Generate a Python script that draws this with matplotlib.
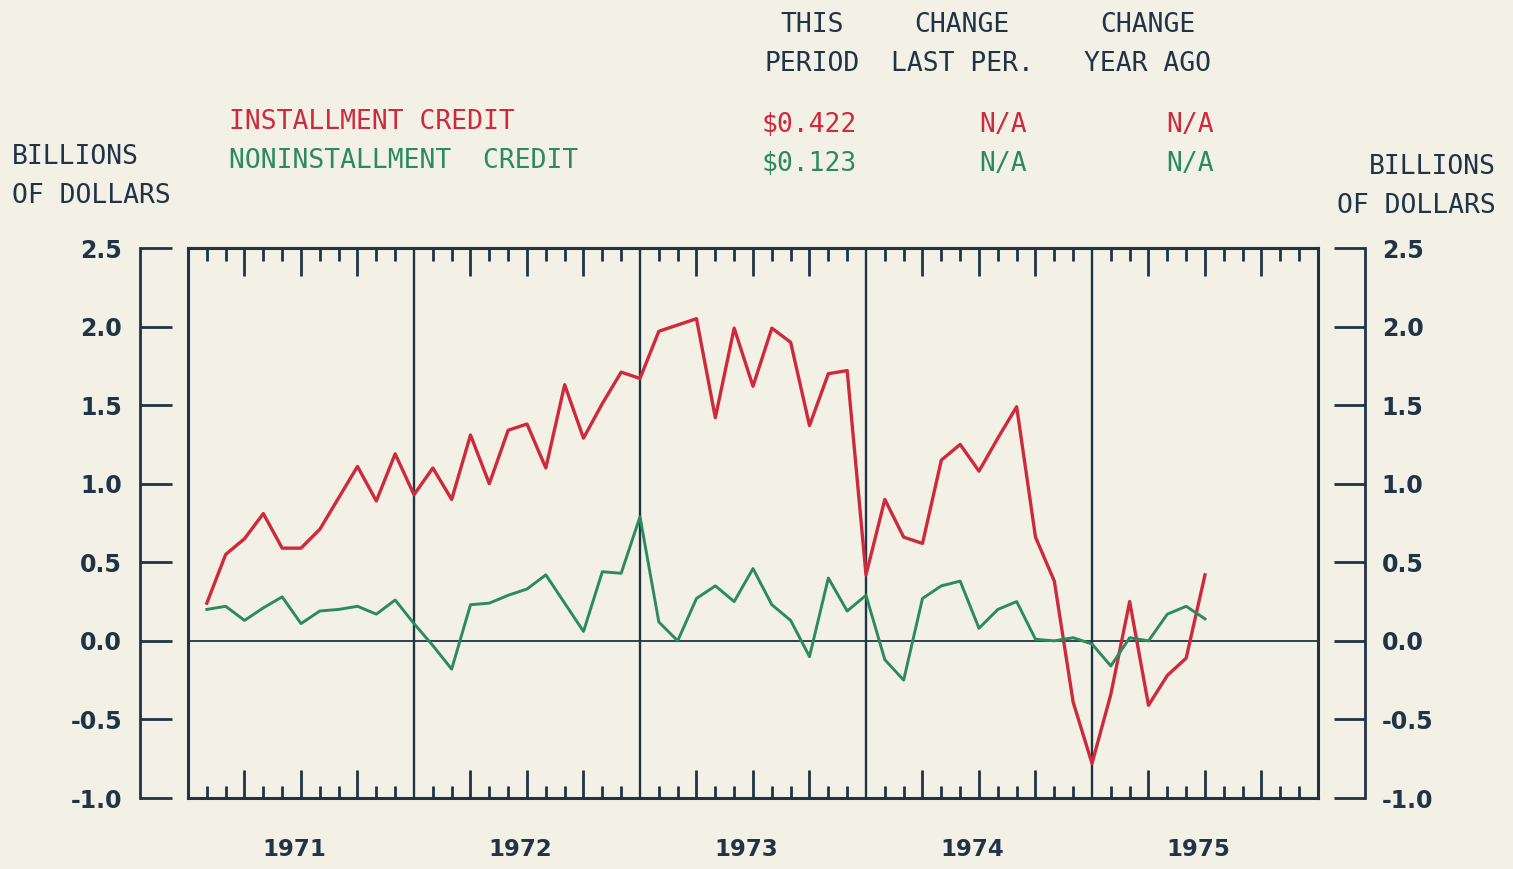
import numpy as np
import pandas as pd
import matplotlib
matplotlib.use('Agg')
import matplotlib.pyplot as plt
from matplotlib.transforms import ScaledTranslation

# monthly change in consumer credit, billions of dollars
dates = pd.date_range('1971-02-01', periods=54, freq='MS')
installment = [0.24, 0.55, 0.65, 0.81, 0.59, 0.59, 0.71, 0.91, 1.11, 0.89, 1.19, 0.93,
               1.10, 0.90, 1.31, 1.00, 1.34, 1.38, 1.10, 1.63, 1.29, 1.51, 1.71, 1.67,
               1.97, 2.01, 2.05, 1.42, 1.99, 1.62, 1.99, 1.90, 1.37, 1.70, 1.72, 0.42,
               0.90, 0.66, 0.62, 1.15, 1.25, 1.08, 1.29, 1.49, 0.66, 0.38, -0.39, -0.78,
               -0.34, 0.25, -0.41, -0.22, -0.11, 0.42]
noninstallment = [0.20, 0.22, 0.13, 0.21, 0.28, 0.11, 0.19, 0.20, 0.22, 0.17, 0.26, 0.11,
                  -0.03, -0.18, 0.23, 0.24, 0.29, 0.33, 0.42, 0.24, 0.06, 0.44, 0.43, 0.79,
                  0.12, 0.00, 0.27, 0.35, 0.25, 0.46, 0.23, 0.13, -0.10, 0.40, 0.19, 0.29,
                  -0.12, -0.25, 0.27, 0.35, 0.38, 0.08, 0.20, 0.25, 0.01, 0.00, 0.02, -0.02,
                  -0.16, 0.02, 0.00, 0.17, 0.22, 0.14]
years = [1971, 1972, 1973, 1974, 1975]
yticks = [-1.0, -0.5, 0.0, 0.5, 1.0, 1.5, 2.0, 2.5]
col_heads = [('THIS', 'PERIOD'), ('CHANGE', 'LAST PER.'), ('CHANGE', 'YEAR AGO')]
rows = [('INSTALLMENT CREDIT', '$0.422', 'N/A', 'N/A'),
        ('NONINSTALLMENT  CREDIT', '$0.123', 'N/A', 'N/A')]

bg = '#F3F0E5'
ink = '#1F3447'
red = '#CD2A3C'
green = '#2B8A5E'
mono = 'DejaVu Sans Mono'

x = dates.year + (dates.month - 1) / 12.0

W, H = 1513, 869
fig = plt.figure(figsize=(W / 100, H / 100), dpi=100, facecolor=bg)

top, bot = 248, 798
by = 1 - bot / H
bh = (bot - top) / H

# main plot box
ax = fig.add_axes([188 / W, by, 1130 / W, bh])
ax.set_facecolor(bg)
ax.plot(x, installment, color=red, lw=2.4, zorder=3)
ax.plot(x, noninstallment, color=green, lw=2.1, zorder=3)
ax.axhline(0, color=ink, lw=1.3, zorder=2)
for yr in years[1:]:
    ax.axvline(yr, color=ink, lw=1.7, zorder=2)
ax.set_xlim(years[0], years[-1] + 1)
ax.set_ylim(-1.0, 2.5)
for s in ax.spines.values():
    s.set_color(ink)
    s.set_linewidth(2.2)
quarters = [yr + q / 4 for yr in years for q in (1, 2, 3)]
months = [yr + m / 12 for yr in years for m in range(1, 12) if m % 3 != 0]
ax.set_xticks(quarters)
ax.set_xticks(months, minor=True)
ax.set_yticks([])
ax.tick_params(axis='x', which='both', direction='in', top=True, bottom=True,
               labelbottom=False, color=ink, width=2)
ax.tick_params(axis='x', which='major', length=20)
ax.tick_params(axis='x', which='minor', length=9)

# year labels under the box
below = ax.get_xaxis_transform() + ScaledTranslation(0, -0.40, fig.dpi_scale_trans)
for yr in years:
    ax.text(yr + 0.47, 0, str(yr), transform=below, ha='center', va='top',
            fontsize=16.5, fontweight='bold', color=ink)

# left scale
axl = fig.add_axes([140 / W, by, 0.0001, bh])
axl.set_ylim(-1.0, 2.5)
axl.set_yticks(yticks)
axl.set_yticklabels([f'{v:.1f}' for v in yticks])
axl.set_xticks([])
for k in ('top', 'bottom', 'right'):
    axl.spines[k].set_visible(False)
axl.spines['left'].set_color(ink)
axl.spines['left'].set_linewidth(2)
axl.tick_params(axis='y', direction='in', length=23, width=2, color=ink, pad=13,
                labelsize=17, labelcolor=ink)
for lab in axl.get_yticklabels():
    lab.set_fontweight('bold')

# right scale
axr = fig.add_axes([1365 / W, by, 0.0001, bh])
axr.set_ylim(-1.0, 2.5)
axr.yaxis.tick_right()
axr.set_yticks(yticks)
axr.set_yticklabels([f'{v:.1f}' for v in yticks])
axr.set_xticks([])
for k in ('top', 'bottom', 'left'):
    axr.spines[k].set_visible(False)
axr.spines['right'].set_color(ink)
axr.spines['right'].set_linewidth(2)
axr.tick_params(axis='y', direction='in', length=22, width=2, color=ink, pad=12,
                labelsize=17, labelcolor=ink)
for lab in axr.get_yticklabels():
    lab.set_fontweight('bold')

# header text
def ftext(px, py, s, ha='left', color=ink, size=19):
    fig.text(px / W, 1 - py / H, s, ha=ha, va='center', color=color,
             fontsize=size, family=mono)

for cx, (a, b) in zip([812, 962, 1148], col_heads):
    ftext(cx, 25, a, ha='center')
    ftext(cx, 64, b, ha='center')

for (name, val, c1, c2), py, c in zip(rows, [122, 161], [red, green]):
    ftext(229, py, name, color=c)
    ftext(761, py + 3, val, color=c)
    ftext(1003, py + 3, c1, ha='center', color=c)
    ftext(1190, py + 3, c2, ha='center', color=c)

ftext(12, 157, 'BILLIONS')
ftext(12, 196, 'OF DOLLARS')
ftext(1496, 167, 'BILLIONS', ha='right')
ftext(1496, 206, 'OF DOLLARS', ha='right')

fig.savefig('out.png', dpi=100, facecolor=bg)
